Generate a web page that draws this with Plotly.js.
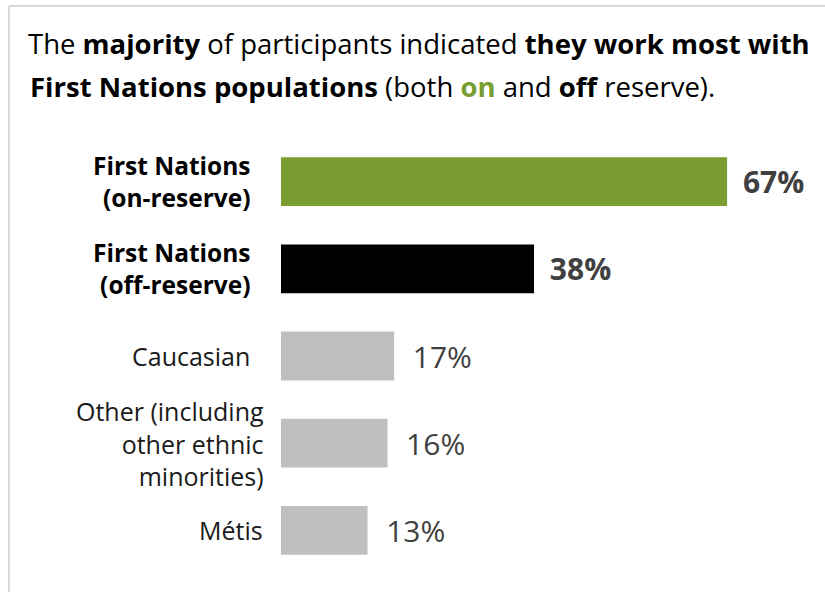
<!DOCTYPE html>
<html>
<head>
<meta charset="utf-8">
<script src="https://cdn.plot.ly/plotly-3.0.1.min.js"></script>
<style>
  html, body { margin: 0; padding: 0; background: #ffffff; }
  #chart { width: 825px; height: 592px; }
</style>
</head>
<body>
<div id="chart"></div>
<script>
// ---- data ----
const categories = [
  'First Nations (on-reserve)',
  'First Nations (off-reserve)',
  'Caucasian',
  'Other (including other ethnic minorities)',
  'Métis'
];
const categoryLabels = [
  'First Nations<br>(on-reserve)',
  'First Nations<br>(off-reserve)',
  'Caucasian',
  'Other (including<br>other ethnic<br>minorities)',
  'Métis'
];
const values = [67, 38, 17, 16, 13];
const titleLine1 = 'The <b>majority</b> of participants indicated <b>they work most with</b>';
const titleLine2 = '<b>First Nations populations</b> (both <b><span style="color:#7a9d31">on</span></b> and <b>off</b> reserve).';

// ---- styles ----
const GREEN = '#7a9d31';
const barColors = [GREEN, '#000000', '#bfbfbf', '#bfbfbf', '#bfbfbf'];
const emphasis = [true, true, false, false, false];
const labelRight = [253, 253, 252, 266, 265];
const FONT = '"Open Sans", "Noto Sans", "DejaVu Sans", sans-serif';

// ---- geometry ----
const W_PX = 825, H_PX = 592;
const M = { l: 281, r: 10, t: 138, b: 18 };
const PW = W_PX - M.l - M.r, PH = H_PX - M.t - M.b;
const px2x = px => (px - M.l) / PW;
const py2y = py => 1 - (py - M.t) / PH;

const valueText = values.map((v, i) => emphasis[i] ? '<b>' + v + '%</b>' : v + '%');

const trace = {
  type: 'bar',
  orientation: 'h',
  y: categories,
  x: values,
  width: 0.56,
  marker: { color: barColors, line: { width: 0 } },
  text: valueText.map((t, i) => (emphasis[i] ? '\u00a0\u2006' : '\u00a0\u00a0') + t),
  textposition: 'outside',
  constraintext: 'none',
  cliponaxis: false,
  textfont: { family: FONT, size: 30, color: '#404040' },
  hoverinfo: 'none'
};

const annotations = categories.map((c, i) => ({
  xref: 'paper', yref: 'y',
  x: px2x(labelRight[i]), y: c,
  xanchor: 'right', yanchor: 'middle',
  text: emphasis[i] ? '<b>' + categoryLabels[i] + '</b>' : categoryLabels[i],
  align: 'right',
  showarrow: false,
  font: { family: FONT, size: emphasis[i] ? 24.5 : 25, color: emphasis[i] ? '#000000' : '#1a1a1a' }
}));

annotations.push({
  xref: 'paper', yref: 'paper',
  x: px2x(28), y: py2y(86),
  xanchor: 'left', yanchor: 'middle',
  text: titleLine2,
  showarrow: false,
  font: { family: FONT, size: 27.5, color: '#000000' }
});

const layout = {
  width: W_PX, height: H_PX,
  margin: M,
  paper_bgcolor: '#ffffff',
  plot_bgcolor: '#ffffff',
  showlegend: false,
  title: {
    text: titleLine1,
    xref: 'container', yref: 'container',
    x: 28 / W_PX, xanchor: 'left',
    y: 1 - 44 / H_PX, yanchor: 'middle',
    font: { family: FONT, size: 27.5, color: '#000000' }
  },
  xaxis: {
    range: [0, 80.2],
    showgrid: false, zeroline: false, showline: false,
    showticklabels: false, ticks: '', fixedrange: true
  },
  yaxis: {
    type: 'category',
    categoryorder: 'array', categoryarray: categories,
    range: [4.5, -0.5],
    showgrid: false, zeroline: false, showline: false,
    showticklabels: false, ticks: '', fixedrange: true
  },
  bargap: 0.44,
  annotations: annotations,
  shapes: [
    { type: 'line', xref: 'paper', yref: 'paper',
      x0: px2x(9), x1: px2x(830), y0: py2y(6), y1: py2y(6),
      line: { color: '#d9d9d9', width: 2 } },
    { type: 'line', xref: 'paper', yref: 'paper',
      x0: px2x(9), x1: px2x(9), y0: py2y(6), y1: py2y(600),
      line: { color: '#d9d9d9', width: 2 } }
  ]
};

Plotly.newPlot('chart', [trace], layout, { displayModeBar: false, staticPlot: true });
</script>
</body>
</html>
